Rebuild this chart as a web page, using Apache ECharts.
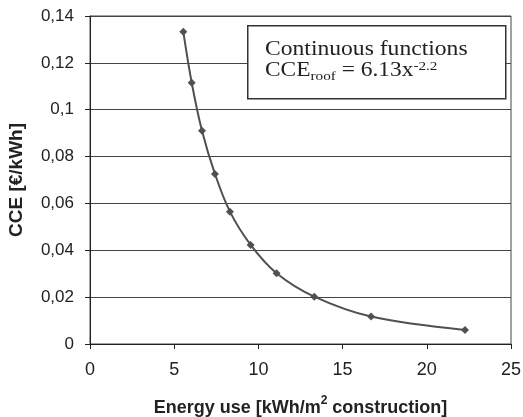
<!DOCTYPE html>
<html><head><meta charset="utf-8">
<script src="https://cdn.jsdelivr.net/npm/echarts@6/dist/echarts.min.js"></script>
<style>html,body{margin:0;padding:0;background:#fff}#c{width:523px;height:417px}</style>
</head><body><div id="c"></div>
<script>
const energyUse = [5.54, 6.04, 6.65, 7.42, 8.31, 9.54, 11.08, 13.32, 16.69, 22.27];
const cce = [0.1333, 0.1115, 0.0910, 0.0726, 0.0565, 0.0423, 0.0302, 0.0202, 0.0117, 0.0060];
const xTicks = [0, 5, 10, 15, 20, 25];
const yTicks = [0, 0.02, 0.04, 0.06, 0.08, 0.1, 0.12, 0.14];

const chart = echarts.init(document.getElementById('c'), null, {renderer: 'canvas'});
const fmt = v => String(+v.toFixed(2)).replace('.', ',');
const SANS = 'Liberation Sans, Arial, sans-serif';
const SERIF = 'Liberation Serif, Times New Roman, serif';
chart.setOption({
  animation: false,
  grid: {left: 90, right: 12, top: 16, bottom: 73, show: true, borderColor: '#444', borderWidth: 1,
         containLabel: false, outerBoundsMode: 'none'},
  xAxis: {
    type: 'value', min: xTicks[0], max: xTicks[xTicks.length - 1], interval: 5,
    axisLine: {show: true, lineStyle: {color: '#222', width: 1}},
    axisTick: {show: true, length: 5, lineStyle: {color: '#222'}},
    axisLabel: {color: '#222', fontFamily: SANS, fontSize: 18, margin: 17},
    splitLine: {show: false},
    name: '{b|Energy use [kWh/m}{s|2}{b| construction]}',
    nameLocation: 'middle', nameGap: 51,
    nameTextStyle: {rich: {
      b: {fontFamily: SANS, fontWeight: 'bold', fontSize: 18, color: '#222', lineHeight: 22, verticalAlign: 'bottom'},
      s: {fontFamily: SANS, fontWeight: 'bold', fontSize: 12, color: '#222', lineHeight: 22, verticalAlign: 'top'}
    }}
  },
  yAxis: {
    type: 'value', min: yTicks[0], max: yTicks[yTicks.length - 1], interval: 0.02,
    axisLine: {show: true, lineStyle: {color: '#222', width: 1}},
    axisTick: {show: true, length: 5, lineStyle: {color: '#222'}},
    axisLabel: {color: '#222', fontFamily: SANS, fontSize: 17, margin: 16, formatter: fmt},
    splitLine: {show: true, lineStyle: {color: '#444', width: 1}},
    name: 'CCE [€/kWh]', nameLocation: 'middle', nameGap: 64,
    nameTextStyle: {fontFamily: SANS, fontWeight: 'bold', fontSize: 19, color: '#222'}
  },
  series: [{
    type: 'line', smooth: 0.35,
    data: energyUse.map((x, i) => [x, cce[i]]),
    symbol: 'diamond', symbolSize: 8,
    lineStyle: {color: '#505050', width: 2},
    itemStyle: {color: '#505050'}
  }],
  graphic: [
    {type: 'rect', left: 247, top: 25, shape: {width: 258, height: 73}, style: {fill: '#fff', stroke: '#333', lineWidth: 1.5}, z: 100},
    {type: 'text', x: 265, y: 50, scaleX: 1.18, z: 101, style: {
      text: 'Continuous functions', fill: '#222', font: '20px "Liberation Serif", "Times New Roman", serif', verticalAlign: 'middle'}},
    {type: 'text', x: 265, y: 71, scaleX: 1.17, z: 101, style: {
      text: '{n|CCE}{sub|roof}{n| = 6.13x}{sup|-2.2}', verticalAlign: 'middle',
      rich: {
        n: {fontFamily: SERIF, fontSize: 20, fill: '#222', lineHeight: 28, verticalAlign: 'middle'},
        sub: {fontFamily: SERIF, fontSize: 13, fill: '#222', lineHeight: 28, verticalAlign: 'bottom', padding: [0,0,2,0]},
        sup: {fontFamily: SERIF, fontSize: 13, fill: '#222', lineHeight: 28, verticalAlign: 'top', padding: [3,0,0,0]}
      }
    }}
  ]
});
</script></body></html>
